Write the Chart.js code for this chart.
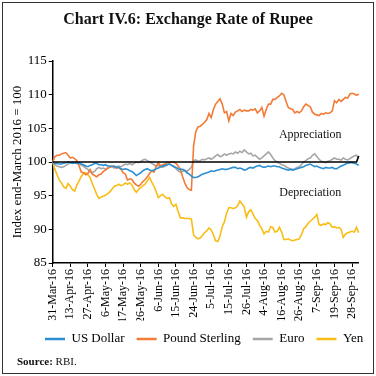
<!DOCTYPE html>
<html><head><meta charset="utf-8">
<script src="https://cdn.jsdelivr.net/npm/chart.js@4/dist/chart.umd.min.js"></script>
<style>html,body{margin:0;padding:0;background:#fff}canvas{display:block}</style>
</head><body>
<canvas id="c" width="376" height="376"></canvas>
<script>
const tickLabels = ['31-Mar-16','13-Apr-16','27-Apr-16','6-May-16','17-May-16','26-May-16','6-Jun-16','15-Jun-16','24-Jun-16','5-Jul-16','15-Jul-16','26-Jul-16','4-Aug-16','16-Aug-16','26-Aug-16','7-Sep-16','19-Sep-16','28-Sep-16'];
const pointsPerTick = 8;
const yTicks = {min: 85, max: 115, step: 5};

const usDollar = [100.0,99.8,99.8,99.7,99.7,99.8,99.9,100.0,99.9,99.8,
99.9,99.8,99.8,99.7,99.6,99.4,99.3,99.5,99.6,99.8,
99.8,99.6,99.6,99.5,99.6,99.4,99.4,99.3,99.4,99.2,
99.2,99.0,98.9,99.0,98.9,98.7,98.6,98.3,98.0,98.2,
98.4,98.7,98.9,99.0,98.8,98.7,98.8,99.0,99.1,99.3,
99.4,99.5,99.6,99.7,99.5,99.3,99.2,99.0,98.9,98.9,
98.7,98.4,98.2,97.9,97.7,97.7,97.8,98.0,98.2,98.3,
98.4,98.5,98.7,98.6,98.7,98.8,98.9,99.0,98.9,98.9,
99.0,99.1,99.2,99.2,99.0,99.1,99.0,98.8,98.9,99.1,
99.2,99.1,99.3,99.4,99.5,99.3,99.2,99.3,99.4,99.3,
99.4,99.4,99.3,99.3,99.1,99.0,98.9,98.8,98.9,98.8,
98.9,99.0,99.1,99.2,99.3,99.5,99.6,99.7,99.5,99.3,
99.4,99.2,99.1,99.0,99.2,99.1,99.1,99.2,99.0,99.0,
99.2,99.4,99.5,99.7,99.8,99.9,99.9,99.8,99.7,99.5];

const poundSterling = [100.0,100.8,101.0,101.0,101.2,101.3,101.4,101.0,100.6,100.7,
100.5,100.2,99.4,98.5,98.4,98.1,98.3,98.9,98.2,98.0,
97.8,98.1,98.2,98.6,98.8,99.1,99.2,99.4,99.3,99.1,
99.2,98.9,98.4,98.2,97.3,97.5,97.4,96.9,96.6,96.4,
96.7,97.1,97.4,97.8,98.3,98.7,98.5,99.3,99.9,99.4,
99.6,99.7,99.9,99.9,100.0,100.0,99.8,99.4,98.9,97.8,
96.9,96.2,95.9,95.8,102.4,104.5,105.2,105.3,105.6,105.9,
106.3,107.2,106.6,107.8,108.6,109.0,109.4,108.6,107.3,107.5,
106.1,107.2,106.9,107.4,107.6,107.8,107.5,107.7,107.6,107.6,
107.8,107.7,107.9,107.3,107.6,108.1,106.8,107.8,108.6,108.6,
109.3,109.3,109.6,109.8,110.2,110.0,109.0,108.1,107.9,107.8,
107.3,107.5,107.3,107.6,108.2,108.6,108.4,108.2,107.4,107.1,
107.0,106.9,107.2,107.1,107.3,107.2,107.3,107.6,109.1,108.8,
109.3,109.0,109.3,109.6,109.5,110.1,110.2,110.1,109.9,110.1];

const euro = [100.0,99.6,99.4,99.3,99.2,99.3,99.5,99.7,99.9,100.0,
99.9,99.8,99.9,99.5,99.4,99.1,98.9,98.5,98.4,98.6,
99.0,99.2,99.0,99.1,98.9,99.1,99.3,99.4,99.1,99.3,
99.4,99.3,99.5,99.7,99.6,99.8,99.6,99.8,100.0,99.9,
100.1,100.3,100.4,100.2,100.0,99.8,99.6,99.4,99.5,99.3,
99.2,99.4,99.6,99.7,99.5,99.4,99.0,98.7,98.5,98.6,
98.8,98.6,98.9,99.2,100.2,100.3,100.1,100.2,100.4,100.3,
100.5,100.6,100.4,100.6,100.9,101.1,100.8,100.9,101.2,101.0,
101.2,101.3,101.2,101.5,101.3,101.6,101.4,101.8,101.5,101.2,
101.3,100.9,101.0,100.7,100.4,100.6,100.9,101.2,101.5,101.1,
100.6,100.2,100.0,99.8,99.6,99.5,99.3,99.1,99.0,98.9,
99.0,99.2,99.3,99.6,100.0,100.2,100.5,100.6,101.0,101.2,
100.8,100.4,100.1,100.0,99.9,100.1,100.2,100.4,100.6,100.4,
100.4,100.3,100.6,100.4,100.3,100.5,100.7,100.9,101.0,100.6];

const yen = [100.0,98.9,98.1,97.3,96.9,96.3,96.1,96.8,96.4,95.9,
95.7,96.6,97.2,97.9,98.3,98.4,98.1,97.7,96.8,96.0,
95.2,94.6,94.8,94.9,95.1,95.3,95.6,96.0,96.4,96.5,
96.7,96.5,96.6,96.9,96.7,96.9,96.6,95.9,95.5,95.9,
96.2,96.5,96.7,97.2,97.7,97.0,96.4,95.6,94.7,95.0,
95.2,94.8,94.6,94.7,93.8,93.4,93.7,92.6,91.7,91.7,
91.6,91.6,91.6,91.5,89.2,88.8,88.6,88.7,89.1,89.5,
89.8,90.2,89.9,89.2,88.3,88.2,89.0,90.4,91.1,92.4,
93.2,93.2,93.1,93.2,93.5,94.2,93.8,93.3,91.8,92.6,
92.9,92.3,91.6,91.3,90.6,90.1,89.3,89.7,89.6,90.4,
90.3,89.6,89.7,90.3,89.6,88.5,88.5,88.6,88.4,88.3,
88.4,88.5,88.6,89.2,90.1,90.4,90.9,91.2,91.5,91.8,
92.2,90.7,90.6,90.8,90.7,91.0,90.8,90.3,90.4,90.2,
90.3,90.0,88.8,89.3,89.5,89.6,89.7,89.6,90.3,89.5];

const referenceLevel = 100;
const referenceEnd = 100.9;
const notes = [
  {text: 'Appreciation', at: 117, value: 104.0},
  {text: 'Depreciation', at: 117, value: 95.35}
];
const seriesNames = ['US Dollar', 'Pound Sterling', 'Euro', 'Yen'];
const seriesColors = ['#2B8FD2', '#F47B36', '#A6A6A6', '#F9BD16'];
const seriesValues = [usDollar, poundSterling, euro, yen];

const categories = usDollar.map((_, i) => (i % pointsPerTick === 0 && tickLabels[i / pointsPerTick]) || '');

const FONT = "'Liberation Serif', 'Times New Roman', serif";

const decor = {
  id: 'decor',
  afterLayout(chart) {
    const lg = chart.legend;
    if (!lg || !lg.lineWidths) return;
    const p = lg.options.labels.padding;
    const cur = (lg.left + lg.right + p - lg.lineWidths[0]) / 2;
    const d = 45 - cur;
    lg.left += d; lg.right += d;
  },
  beforeDraw(chart) {
    const ctx = chart.ctx;
    ctx.save();
    ctx.fillStyle = '#fff';
    ctx.fillRect(0, 0, chart.width, chart.height);
    ctx.restore();
  },
  afterDatasetsDraw(chart) {
    const ctx = chart.ctx, x = chart.scales.x, y = chart.scales.y;
    const n = usDollar.length;
    ctx.save();
    ctx.strokeStyle = '#000';
    ctx.lineWidth = 1.6;
    ctx.beginPath();
    ctx.moveTo(x.getPixelForValue(0), y.getPixelForValue(referenceLevel));
    ctx.lineTo(x.getPixelForValue(n - 2), y.getPixelForValue(referenceLevel));
    ctx.lineTo(x.getPixelForValue(n - 1), y.getPixelForValue(referenceEnd));
    ctx.stroke();
    ctx.fillStyle = '#111';
    ctx.font = "12px " + FONT;
    ctx.textAlign = 'center';
    ctx.textBaseline = 'middle';
    notes.forEach(nt => ctx.fillText(nt.text, x.getPixelForValue(nt.at), y.getPixelForValue(nt.value)));
    ctx.restore();
  },
  afterDraw(chart) {
    const ctx = chart.ctx;
    ctx.save();
    ctx.fillStyle = '#111';
    ctx.textBaseline = 'middle';
    ctx.textAlign = 'center';
    ctx.font = "bold 16px " + FONT;
    ctx.fillText('Chart IV.6: Exchange Rate of Rupee', 188, 20);
    ctx.textAlign = 'left';
    ctx.font = "bold 11px " + FONT;
    ctx.fillText('Source:', 17, 362);
    const w = ctx.measureText('Source:').width;
    ctx.font = "11px " + FONT;
    ctx.fillText(' RBI.', 17 + w, 362);
    ctx.strokeStyle = '#333';
    ctx.lineWidth = 1;
    ctx.strokeRect(2.5, 2.5, 371, 371);
    ctx.restore();
  }
};

new Chart(document.getElementById('c'), {
  type: 'line',
  data: {
    labels: categories,
    datasets: seriesValues.map((vals, k) => ({
      label: seriesNames[k],
      data: vals,
      borderColor: seriesColors[k],
      backgroundColor: seriesColors[k],
      borderWidth: 1.6,
      pointRadius: 0,
      tension: 0,
      fill: false
    }))
  },
  options: {
    responsive: false,
    animation: false,
    devicePixelRatio: 1,
    layout: {padding: {top: 61, left: 0, right: 17.3, bottom: 20.5}},
    plugins: {
      title: {display: false},
      tooltip: {enabled: false},
      legend: {
        position: 'bottom',
        labels: {
          color: '#000',
          font: {family: FONT, size: 13},
          padding: 12,
          usePointStyle: true,
          pointStyle: 'line',
          pointStyleWidth: 20,
          generateLabels(chart) {
            return Chart.defaults.plugins.legend.labels.generateLabels(chart).map(it => Object.assign(it, {lineWidth: 2.5, pointStyle: 'line'}));
          }
        }
      }
    },
    scales: {
      x: {
        type: 'category',
        offset: false,
        grid: {drawOnChartArea: false, drawTicks: true, tickLength: 4, color: '#000', lineWidth: 1},
        border: {display: true, color: '#000', width: 1.5},
        ticks: {
          autoSkip: false, maxRotation: 90, minRotation: 90, padding: 2,
          color: '#000', font: {family: FONT, size: 12},
          callback: (v, i) => categories[i] || null
        },
        afterFit: s => { s.height = 57.5; }
      },
      y: {
        min: yTicks.min, max: yTicks.max,
        grid: {drawOnChartArea: false, drawTicks: true, tickLength: 4, color: '#000', lineWidth: 1},
        border: {display: true, color: '#000', width: 1.5},
        ticks: {stepSize: yTicks.step, padding: 2, color: '#000', font: {family: FONT, size: 13}},
        title: {display: true, text: 'Index end-March 2016 = 100', color: '#000', font: {family: FONT, size: 13}, padding: {top: 10, bottom: 0}},
        afterFit: s => { s.width = 52.7; }
      }
    }
  },
  plugins: [decor]
});
</script>
</body></html>
